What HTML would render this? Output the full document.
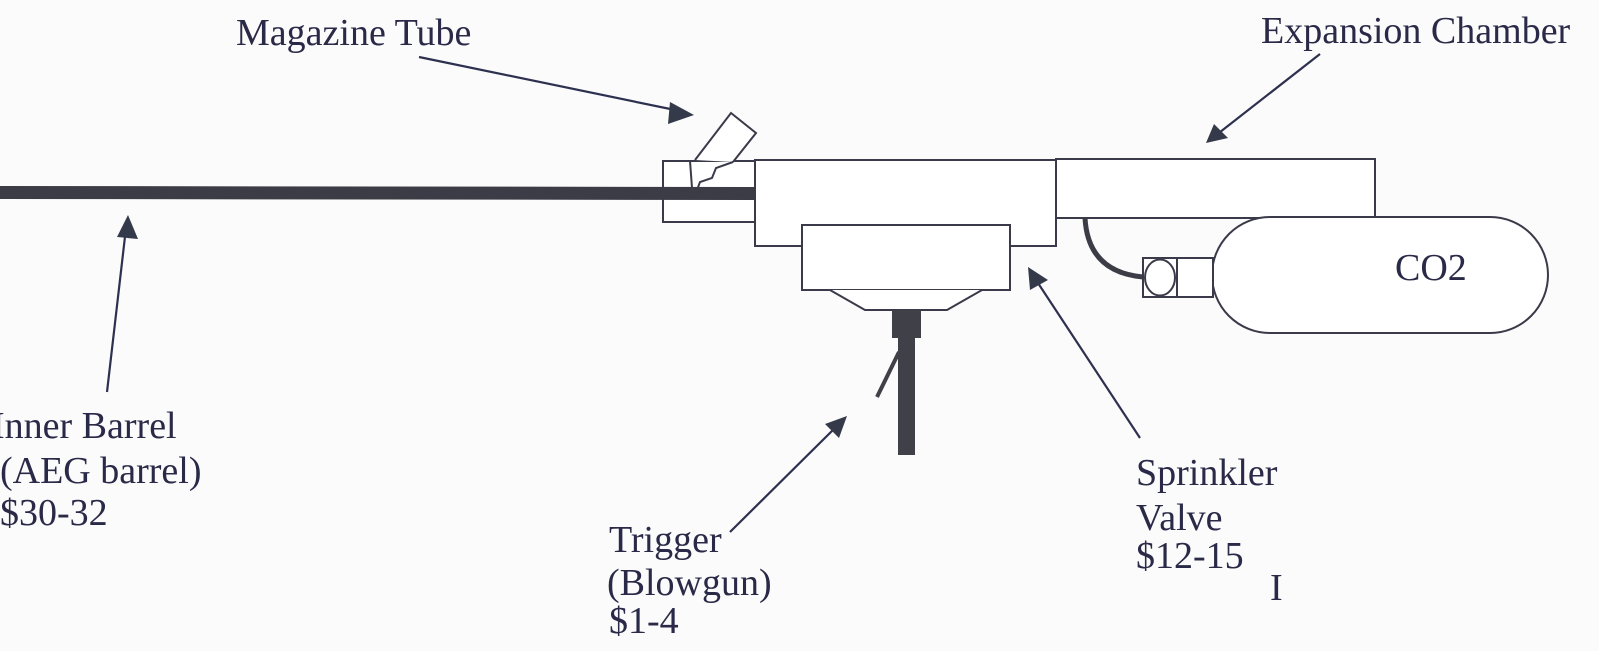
<!DOCTYPE html>
<html><head><meta charset="utf-8"><style>
html,body{margin:0;padding:0;background:#fbfbfb;}
svg{display:block;}
text{font-family:"Liberation Serif",serif;fill:#2a2a48;font-size:38px;}
</style></head><body>
<svg width="1599" height="651" viewBox="0 0 1599 651" xmlns="http://www.w3.org/2000/svg">
<rect width="1599" height="651" fill="#fbfbfb"/>
<g stroke="#3a3a4a" stroke-width="2" fill="#fff">
<rect x="663" y="161" width="92" height="61"/>
<rect x="755" y="160" width="301" height="86"/>
<rect x="1056" y="159" width="319" height="59"/>
<rect x="1212" y="217" width="336" height="116" rx="58" ry="58"/>
<rect x="1177" y="258" width="36" height="39"/>
<rect x="1143" y="258" width="34" height="39"/>
<ellipse cx="1160" cy="277.5" rx="15" ry="18"/>
<rect x="802" y="225" width="208" height="65"/>
<path d="M830 290 L865 310 H947 L982 290"/>
<path d="M695 160 L731 113 L756 133 L733 162" />
<path d="M690 161 L692 188 M733 162 L716 168 L712 178 L700 182 L697 190" fill="none"/>
</g>
<polygon points="0,186 755,187 755,200 0,199" fill="#3c3c46"/>
<path d="M1085 218 Q1088 272 1143 277" fill="none" stroke="#3c3c46" stroke-width="5"/>
<rect x="892" y="310" width="29" height="28" fill="#404048"/>
<rect x="898" y="338" width="17" height="117" fill="#404048"/>
<line x1="899" y1="352" x2="877" y2="397" stroke="#404048" stroke-width="4"/>
<g stroke="#2e3050" stroke-width="2.2" fill="#353a4a">
<line x1="419" y1="57" x2="680" y2="111"/>
<polygon points="694,115 670,102 668,124" stroke="none"/>
<line x1="1320" y1="54" x2="1215" y2="136"/>
<polygon points="1206,143 1214,124 1228,138" stroke="none"/>
<line x1="107" y1="392" x2="126" y2="228"/>
<polygon points="128,215 117,237 138,239" stroke="none"/>
<line x1="730" y1="532" x2="838" y2="425"/>
<polygon points="847,416 825,424 839,438" stroke="none"/>
<line x1="1140" y1="438" x2="1036" y2="280"/>
<polygon points="1028,267 1030,290 1048,280" stroke="none"/>
</g>
<text x="236" y="45">Magazine Tube</text>
<text x="1261" y="43">Expansion Chamber</text>
<text x="1395" y="280" font-size="34">CO2</text>
<text x="-8" y="438">Inner Barrel</text>
<text x="0" y="483">(AEG barrel)</text>
<text x="0" y="525">$30-32</text>
<text x="609" y="552">Trigger</text>
<text x="607" y="595">(Blowgun)</text>
<text x="609" y="633">$1-4</text>
<text x="1136" y="485">Sprinkler</text>
<text x="1136" y="530">Valve</text>
<text x="1136" y="568">$12-15</text>
<text x="1270" y="600" font-size="22" fill="#6a6a80">I</text>
</svg>
</body></html>
